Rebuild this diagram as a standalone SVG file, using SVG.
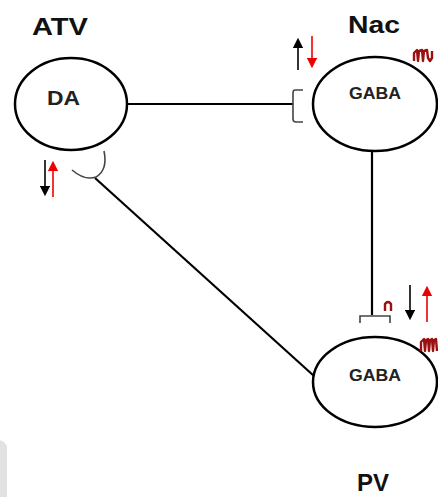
<svg xmlns="http://www.w3.org/2000/svg" width="438" height="497" viewBox="0 0 438 497">
<defs>
<style>
.cell{fill:#fff;stroke:#000;stroke-width:2.5}
.lbl{font-family:"Liberation Sans",Arial,sans-serif;font-weight:bold;fill:#111}
.big{font-size:24px}
.in{font-size:16px;fill:#222}
.edge{stroke:#000;stroke-width:2.2;fill:none}
.syn{stroke:#444;stroke-width:1.6;fill:none}
.wig{stroke:#9b1010;stroke-width:2.4;fill:none;stroke-linejoin:round}
.ab{stroke:#000;stroke-width:1.6}
.ar{stroke:#e00;stroke-width:1.6}
</style>
<marker id="hb" viewBox="0 0 10 10" refX="5" refY="5" markerWidth="6.5" markerHeight="6.5" orient="auto"><path d="M0,0 L10,5 L0,10 z" fill="#000"/></marker>
<marker id="hr" viewBox="0 0 10 10" refX="5" refY="5" markerWidth="6.5" markerHeight="6.5" orient="auto"><path d="M0,0 L10,5 L0,10 z" fill="#e00"/></marker>
</defs>
<rect width="438" height="497" fill="#fff"/>
<path d="M0,440 L4,442 L7,446 L7,497 L0,497 z" fill="#e2e2e2"/>
<g id="connectors">
<line class="edge" x1="127" y1="104" x2="293" y2="104"/>
<path class="syn" d="M303,90 L295,90 Q293,90 293,93 L293,119 Q293,122 296,122 L303,122"/>
<line class="edge" x1="372" y1="151" x2="372" y2="315"/>
<path class="syn" d="M360,323 L360,316 L390,316 L390,323"/>
<line class="edge" x1="95" y1="178" x2="314" y2="376"/>
<path class="syn" d="M104,151 Q108,170 96,177 Q85,181 72,170"/>
</g>
<g id="atv">
<text class="lbl big" x="32" y="35" textLength="56" lengthAdjust="spacingAndGlyphs">ATV</text>
<ellipse class="cell" cx="71" cy="104" rx="56" ry="46"/>
<text class="lbl in" x="47" y="105" textLength="33" lengthAdjust="spacingAndGlyphs" style="font-size:20px">DA</text>
<line class="ab" x1="45" y1="160" x2="45" y2="191" marker-end="url(#hb)"/>
<line class="ar" x1="53" y1="197" x2="53" y2="166" marker-end="url(#hr)"/>
</g>
<g id="nac">
<text class="lbl big" x="348" y="33" textLength="52" lengthAdjust="spacingAndGlyphs">Nac</text>
<ellipse class="cell" cx="375" cy="104" rx="62" ry="47"/>
<text class="lbl in" x="349" y="99" textLength="52" lengthAdjust="spacingAndGlyphs">GABA</text>
<line class="ab" x1="298" y1="70" x2="298" y2="43" marker-end="url(#hb)"/>
<line class="ar" x1="312" y1="36" x2="312" y2="63" marker-end="url(#hr)"/>
<path class="wig" d="M414,61 L414,53 L417,50 L418,61 L419,51 L422,50 L423,61 L424,51 L427,50 L428,58 L430,61 L432,58 L432,51"/>
</g>
<g id="pv">
<ellipse class="cell" cx="375" cy="382" rx="62" ry="45"/>
<text class="lbl in" x="349" y="381" textLength="52" lengthAdjust="spacingAndGlyphs">GABA</text>
<text class="lbl big" x="373" y="491" text-anchor="middle">PV</text>
<path class="wig" d="M385,311 L385,304 Q388,300 391,304 L391,311" stroke-width="2.2"/>
<line class="ab" x1="410" y1="285" x2="410" y2="315" marker-end="url(#hb)"/>
<line class="ar" x1="427" y1="322" x2="427" y2="291" marker-end="url(#hr)"/>
<path class="wig" d="M421,351 L421,342 L424,339 L425,351 L426,340 L428,339 L429,351 L430,340 L432,339 L433,351 L434,340 L436,339 L437,351"/>
</g>
</svg>
